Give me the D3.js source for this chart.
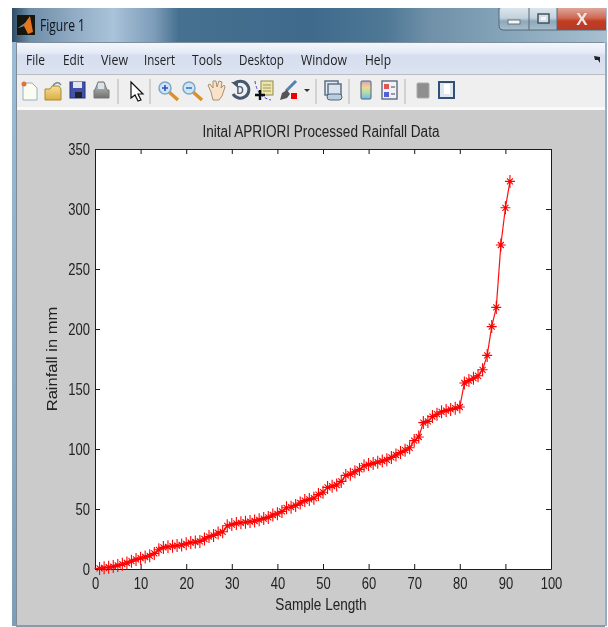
<!DOCTYPE html>
<html><head><meta charset="utf-8">
<script src="https://cdn.jsdelivr.net/npm/d3@7/dist/d3.min.js"></script>
<style>html,body{margin:0;padding:0;background:#fff;overflow:hidden}svg{display:block}</style>
</head><body><svg id="c" width="608" height="627"></svg>
<script>
const rainfall=[0.5,1,1.5,2,3,4,5,6.5,8,9,10,11,13,16,18,18.5,19,19.5,20,21,22,22.5,23,25,27,28,30,31,36,37,38,38.5,39,39.5,40,41,42,43,45,46,48,51,51.5,53,55,57,58,59,62,64,68,69,70,73,78,79,81,83,86,87,88,89,90,91,93,95,97,99,101,107,110,122,123,127,129,131,132,133,134,135,155,157,159,161,166,178,202,218,270,301,323];
const xTicks=[0,10,20,30,40,50,60,70,80,90,100];
const yTicks=[0,50,100,150,200,250,300,350];
const menuItems=["File","Edit","View","Insert","Tools","Desktop","Window","Help"];
const menuLefts=[26,63,101,144,192,239,301,365];
const menuWidths=[19,21,27,31,30,45,46,26];
const chartTitle="Inital APRIORI Processed Rainfall Data";
const xLabel="Sample Length", yLabel="Rainfall in mm", windowTitle="Figure 1";
const stretch=1.24;

const svg=d3.select("#c");
const defs=svg.append("defs");
const grad=(id,stops,horizontal)=>{const g=defs.append("linearGradient").attr("id",id).attr("x1",0).attr("y1",0).attr("x2",horizontal?1:0).attr("y2",horizontal?0:1);
  stops.forEach(d=>g.append("stop").attr("offset",d[0]).attr("stop-color",d[1]));};
grad("tb",[[0,"#2f4c66"],[.03,"#6f8ea8"],[.1,"#8faac2"],[.17,"#a9c3d9"],[.24,"#7c9cb8"],[.28,"#46708f"],[.5,"#3f6a8c"],[.63,"#4f7896"],[.7,"#6f90a8"],[.8,"#80a0b6"],[1,"#a8c0d0"]],true);
grad("mg",[[0,"#f4f6fb"],[.3,"#e6ebf6"],[.4,"#d6deef"],[1,"#dce3f1"]]);
grad("rg",[[0,"#dca79b"],[.45,"#cf6a54"],[.6,"#c43a22"],[1,"#b23a28"]]);
grad("bg",[[0,"#dbe5ec"],[.45,"#c3d2dd"],[.6,"#8ea8ba"],[1,"#a8bdcb"]]);
grad("cb",[[0,"#d8a0c0"],[.35,"#eed890"],[.65,"#b0dcb0"],[1,"#70b8e8"]]);
grad("lf",[[0,"#9dbcd6"],[1,"#7e9db8"]]);
grad("fl",[[0,"#f4de98"],[1,"#dcae40"]]);
grad("pr",[[0,"#c8c8c8"],[1,"#70706c"]]);
defs.append("filter").attr("id","soft2").append("feGaussianBlur").attr("stdDeviation",0.3);
defs.append("filter").attr("id","soft3").append("feGaussianBlur").attr("stdDeviation",0.45);

// window frame
const frame=svg.append("g");
const rect=(p,x,y,w,h,fill)=>p.append("rect").attr("x",x).attr("y",y).attr("width",w).attr("height",h).attr("fill",fill);
rect(frame,12,8,595,618,"url(#tb)");
rect(frame,12,42,4,584,"url(#lf)");
rect(frame,604,42,3,584,"#93adc2");
rect(frame,16,42,588,1,"#7d8e9c");
rect(frame,16,43,589,31,"url(#mg)");
rect(frame,16,74,589,1,"#b9bcc2");
rect(frame,16,75,589,32,"#efefef");
rect(frame,16,107,589,3,"#fafafa");
rect(frame,16,110,589,515,"#cbcbcb");
rect(frame,16,625,589,2,"#8a9aa6");
rect(frame,16,43,1,582,"#7f8c96");

// caption buttons
const cap=svg.append("g").attr("filter","url(#soft2)");
rect(cap,499,8,107,22,"url(#bg)").attr("rx",3);
rect(cap,557,8,49,22,"url(#rg)");
cap.append("path").attr("d","M499,8V26Q499,30,503,30H606").attr("fill","none").attr("stroke","#55687a");
cap.append("path").attr("d","M529,8V30M557,8V30").attr("stroke","#55687a");
rect(cap,508,20,12,4,"#f4f6f8").attr("stroke","#66727c");
rect(cap,538,14,11,9,"#d5dfe8").attr("stroke","#46525e").attr("stroke-width",1.5);
rect(cap,541,17,5,3,"#f4f6f8");
cap.append("text").attr("x",582).attr("y",25).attr("text-anchor","middle").attr("font-family","Liberation Sans").attr("font-weight","bold").attr("font-size",17).attr("fill","#efe8e6").text("X");

// app icon + window title
const logo=svg.append("g").attr("filter","url(#soft2)");
rect(logo,17,15,18,20,"#15130f");
logo.append("path").attr("d","M18,28L25,23L30,16L33,32L28,34L24,26Z").attr("fill","#e5761f");
logo.append("path").attr("d","M18,28L25,23L24,26Z").attr("fill","#3f8fc5");
svg.append("text").attr("transform",`translate(40,31) scale(1,${stretch})`).attr("font-family","Open Sans").attr("font-size",12.5).attr("textLength",45).attr("lengthAdjust","spacingAndGlyphs").attr("fill","#10161c").attr("filter","url(#soft2)").text(windowTitle);

// menu
svg.append("g").attr("filter","url(#soft2)").selectAll("text").data(menuItems).join("text")
  .attr("transform",(d,i)=>`translate(${menuLefts[i]},65) scale(1,${stretch})`)
  .attr("textLength",(d,i)=>menuWidths[i]).attr("lengthAdjust","spacingAndGlyphs")
  .attr("font-family","Open Sans").attr("font-size",12).attr("fill","#222").text(d=>d);
svg.append("path").attr("d","M594,56l6,1l0,6l-2,-3l-3,0z").attr("fill","#222");

// toolbar icons
const ic=svg.append("g").attr("filter","url(#soft3)");
ic.append("path").attr("d","M23,83h9l5,5v12h-14z").attr("fill","#fbfcf0").attr("stroke","#8fb0cc");
ic.append("circle").attr("cx",24).attr("cy",84).attr("r",2.5).attr("fill","#e2703a");
ic.append("path").attr("d","M45,89h5l2,-3h7l2,3v11h-16z").attr("fill","url(#fl)").attr("stroke","#a98a30");
ic.append("path").attr("d","M53,86q2,-4,6,-3l2,2").attr("fill","none").attr("stroke","#7c8a90").attr("stroke-width",1.5);
rect(ic,70,82,15,16,"#4152a8").attr("stroke","#2a3580");
rect(ic,73,82,9,6,"#e4e6f2");
rect(ic,75,92,7,6,"#20202e");
ic.append("path").attr("d","M95,90l3,-8h6l3,8h2v8h-15v-8z").attr("fill","url(#pr)").attr("stroke","#777");
rect(ic,98,83,6,6,"#d6e4f0");
ic.append("path").attr("d","M131,82v16l4,-3l3,6l3,-1l-3,-6h5z").attr("fill","#fff").attr("stroke","#111").attr("stroke-width",1.2);
[[165,"#2c50c0",true],[189,"#2c7bd0",false]].forEach(d=>{
  ic.append("path").attr("d",`M${d[0]+4},92l9,8`).attr("stroke","#d99030").attr("stroke-width",3.5);
  ic.append("circle").attr("cx",d[0]).attr("cy",88).attr("r",6).attr("fill","#cfe4f5").attr("stroke","#7fa8c8").attr("stroke-width",1.5);
  ic.append("path").attr("d",d[2]?`M${d[0]-3},88h6M${d[0]},85v6`:`M${d[0]-3},88h6`).attr("stroke",d[1]).attr("stroke-width",1.6);
});
ic.append("path").attr("d","M211,92l-3,-7l2,-1l3,4l0,-7l3,0l1,6l2,-6l3,1l-1,6l3,-3l1,2l-3,9l-3,4h-6z").attr("fill","#f8e2c8").attr("stroke","#a89070");
ic.append("path").attr("d","M234,84a8.500,8.500 0 1 1 -1,10").attr("fill","none").attr("stroke","#44586e").attr("stroke-width",3);
ic.append("path").attr("d","M231,82h7v6z").attr("fill","#44586e");
ic.append("text").attr("x",240).attr("y",94).attr("text-anchor","middle").attr("font-size",10).attr("font-family","Liberation Sans").attr("font-weight","bold").attr("fill","#4a5e78").text("D");
rect(ic,261,81,12,14,"#eee6a8").attr("stroke","#8f8a50");
ic.append("path").attr("d","M263,85h8M263,88h8M263,91h8").attr("stroke","#9a9560");
ic.append("path").attr("d","M255,81q2,16,16,19").attr("stroke","#3a3ad0").attr("fill","none").attr("stroke-dasharray","3 2");
ic.append("path").attr("d","M255,95h10M260,90v10").attr("stroke","#111").attr("stroke-width",2.4);
ic.append("path").attr("d","M286,91l10,-10").attr("stroke","#5a7fb0").attr("stroke-width",3);
ic.append("path").attr("d","M280,100l2,-7l5,-3l3,4l-3,4z").attr("fill","#555");
rect(ic,291,93,6,6,"#f00000");
ic.append("path").attr("d","M304,89h6l-3,3z").attr("fill","#333");
rect(ic,325,81,13,14,"#e6ebf2").attr("stroke","#5d7088").attr("stroke-width",1.5);
rect(ic,328,84,13,12,"#dbe3ec").attr("stroke","#5d7088").attr("stroke-width",1.5);
rect(ic,327,94,15,6,"#bccde0").attr("stroke","#4d6680").attr("rx",3);
rect(ic,361,81,10,18,"url(#cb)").attr("rx",1).attr("stroke","#50607a");
rect(ic,382,81,15,18,"#f2f2f6").attr("stroke","#50607a").attr("stroke-width",1.3);
rect(ic,384,84,5,5,"#e05555");
rect(ic,384,92,5,5,"#5060d8");
ic.append("path").attr("d","M391,87h4M391,94h4").attr("stroke","#445");
rect(ic,417,83,12,15,"#8e8e8e").attr("rx",1).attr("stroke","#aaa");
rect(ic,439,82,15,16,"#dfe6ee").attr("stroke","#33507a").attr("stroke-width",2);
rect(ic,444,84,6,10,"#fff");
svg.append("g").selectAll("line").data([118,150,316,349,405]).join("line")
  .attr("x1",d=>d).attr("x2",d=>d).attr("y1",79).attr("y2",104).attr("stroke","#b4b4b4");

// plot
const M={l:95,r:551,t:149,b:569};
const x=d3.scaleLinear().domain([0,100]).range([M.l,M.r]);
const y=d3.scaleLinear().domain([0,350]).range([M.b,M.t]);
const plot=svg.append("g");
rect(plot,M.l,M.t,M.r-M.l,M.b-M.t,"#fff");
const txt=svg.append("g").attr("filter","url(#soft2)");
const styleAxis=g=>{g.selectAll("path.domain").attr("stroke","#1a1a1a");g.selectAll("line").attr("stroke","#1a1a1a");
  g.selectAll("text").attr("font-family","Liberation Sans").attr("font-size",13).attr("fill","#222");};
const placeLabels=(g,dx,dy)=>g.selectAll(".tick text").attr("x",null).attr("y",null).attr("dy",null)
  .attr("transform",`translate(${dx},${dy}) scale(1,${stretch})`);
txt.append("g").attr("transform",`translate(0,${M.b})`).call(d3.axisBottom(x).tickValues(xTicks).tickSize(-5).tickSizeOuter(0)).call(styleAxis).call(placeLabels,0,19.5);
txt.append("g").attr("transform",`translate(0,${M.t})`).call(d3.axisBottom(x).tickValues(xTicks).tickSize(5).tickFormat("").tickSizeOuter(0)).call(styleAxis);
txt.append("g").attr("transform",`translate(${M.l},0)`).call(d3.axisLeft(y).tickValues(yTicks).tickSize(-5).tickSizeOuter(0)).call(styleAxis).call(placeLabels,-5,5.5);
txt.append("g").attr("transform",`translate(${M.r},0)`).call(d3.axisRight(y).tickValues(yTicks).tickSize(-5).tickFormat("").tickSizeOuter(0)).call(styleAxis);

const lbl=(t,px,py,size,sy,rot)=>txt.append("text").attr("text-anchor","middle").attr("font-family","Liberation Sans").attr("font-size",size).attr("fill","#222")
  .attr("transform",`translate(${px},${py}) scale(1,${sy})${rot?" rotate(-90)":""}`).text(t);
lbl(chartTitle,321,137,13.6,stretch,false);
lbl(xLabel,321,610,13.6,stretch,false);
lbl(yLabel,56.5,359,15,1.1,true);

// series
const series=svg.append("g").attr("filter","url(#soft2)");
series.append("path").datum(rainfall).attr("fill","none").attr("stroke","#ff1010").attr("stroke-width",1.2)
  .attr("d",d3.line().x((d,i)=>x(i+1)).y(d=>y(d)));
const star=d3.symbol().type({draw(c){const rx=5,ry=6.5,q=3;
  c.moveTo(-rx,0);c.lineTo(rx,0);c.moveTo(0,-ry);c.lineTo(0,ry);
  c.moveTo(-q,-q);c.lineTo(q,q);c.moveTo(-q,q);c.lineTo(q,-q);}}).size(1);
series.append("g").selectAll("path").data(rainfall).join("path")
  .attr("transform",(d,i)=>`translate(${x(i+1)},${y(d)})`).attr("d",star())
  .attr("fill","none").attr("stroke","#ff0000").attr("stroke-width",1.1);
</script></body></html>
